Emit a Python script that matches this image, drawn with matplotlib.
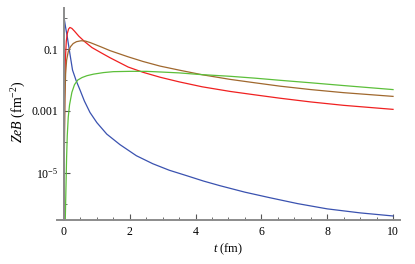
import numpy as np
import matplotlib
matplotlib.use("Agg")
import matplotlib.pyplot as plt
from matplotlib.ticker import FixedLocator, FixedFormatter, MultipleLocator

plt.rcParams['font.family'] = ['Liberation Serif', 'DejaVu Serif']
plt.rcParams['mathtext.fontset'] = 'custom'
plt.rcParams['mathtext.rm'] = 'Liberation Serif'
plt.rcParams['mathtext.it'] = 'Liberation Serif:italic'

# log10 values
t_blue = [0, 0.05, 0.1, 0.18, 0.26, 0.37, 0.49, 0.62, 0.79, 1.0, 1.3, 1.7, 2.2, 2.7,
          3.2, 3.74, 4.24, 4.74, 5.5, 6.26, 7.1, 8, 9, 10]
lg_blue = [0.03, -0.3, -0.6, -1.15, -1.68, -2.02, -2.33, -2.68, -3.05, -3.38, -3.75,
           -4.09, -4.45, -4.71, -4.92, -5.10, -5.27, -5.42, -5.63, -5.81, -6.0, -6.17,
           -6.30, -6.40]

t_red = [0.0, 0.01, 0.02, 0.04, 0.07, 0.1, 0.14, 0.18, 0.24, 0.32, 0.45, 0.63, 0.85,
         1.13, 1.4, 1.95, 2.4, 2.92, 3.5, 4.2, 5.05, 5.8, 6.57, 7.5, 8.5, 10]
lg_red = [-6.5, -4.0, -2.6, -1.4, -0.75, -0.5, -0.35, -0.3, -0.33, -0.42, -0.58, -0.76,
          -0.95, -1.12, -1.28, -1.58, -1.75, -1.91, -2.06, -2.22, -2.37, -2.48, -2.59,
          -2.71, -2.82, -2.95]

t_brown = [0.0, 0.01, 0.03, 0.05, 0.08, 0.13, 0.2, 0.28, 0.38, 0.52, 0.65, 0.8, 1.13,
           1.4, 1.95, 2.4, 2.92, 3.5, 4.2, 5.05, 5.8, 6.57, 7.5, 8.5, 10]
lg_brown = [-6.5, -4.5, -2.6, -1.8, -1.36, -1.08, -0.92, -0.82, -0.76, -0.73, -0.74,
            -0.79, -0.93, -1.05, -1.25, -1.40, -1.55, -1.68, -1.83, -1.98, -2.09, -2.20,
            -2.31, -2.41, -2.53]

t_green = [0.04, 0.06, 0.08, 0.1, 0.13, 0.17, 0.24, 0.32, 0.42, 0.55, 0.7, 0.9, 1.2,
           1.5, 2.0, 2.5, 2.92, 3.5, 4.1, 5.05, 5.8, 6.57, 7.5, 8.5, 10]
lg_green = [-6.5, -5.5, -4.5, -3.8, -3.2, -2.8, -2.4, -2.15, -2.0, -1.92, -1.86, -1.81,
            -1.76, -1.73, -1.72, -1.72, -1.74, -1.77, -1.82, -1.88, -1.94, -2.01, -2.09,
            -2.18, -2.31]

ytick_vals = [0.1, 0.001, 1e-5]
ytick_labels = ["0.1", "0.001", r"$10^{-5}$"]

fig = plt.figure(figsize=(4.15, 2.64), dpi=100)
ax = fig.add_axes([0.1383, 0.1667, 0.8246, 0.803])

ax.plot(t_blue, 10**np.array(lg_blue), color="#3a52b0", lw=0.9)
ax.plot(t_red, 10**np.array(lg_red), color="#f02020", lw=0.9)
ax.plot(t_brown, 10**np.array(lg_brown), color="#a0682e", lw=0.9)
ax.plot(t_green, 10**np.array(lg_green), color="#5cbf3a", lw=0.9)

ax.set_yscale("log")
ax.set_xlim(-0.2, 10.2)
ax.set_ylim(10**-6.53, 10**0.33)

for s in ["top", "right"]:
    ax.spines[s].set_visible(False)
ax.spines["left"].set_position(("data", 0))
for s in ["left", "bottom"]:
    ax.spines[s].set_color("#8c8c8c")
    ax.spines[s].set_linewidth(1.4)

ax.xaxis.set_major_locator(MultipleLocator(2))
ax.xaxis.set_minor_locator(MultipleLocator(0.5))
ax.yaxis.set_major_locator(FixedLocator(ytick_vals))
ax.yaxis.set_major_formatter(FixedFormatter(ytick_labels))
ax.yaxis.set_minor_locator(FixedLocator([1, 0.01, 1e-4, 1e-6]))
ax.yaxis.set_minor_formatter(FixedFormatter([]))

ax.tick_params(which="both", direction="in", color="#555555", labelsize=8.5, pad=4)
ax.tick_params(which="major", length=4, width=0.8)
ax.tick_params(which="minor", length=2, width=0.6)

ax.set_xlabel(r"$t$ (fm)", fontsize=9, labelpad=3)
ax.set_ylabel(r"$ZeB$ (fm$^{-2}$)", fontsize=10, labelpad=2)
ax.yaxis.set_label_coords(-0.085, 0.51)

fig.savefig("out.png", dpi=100)
